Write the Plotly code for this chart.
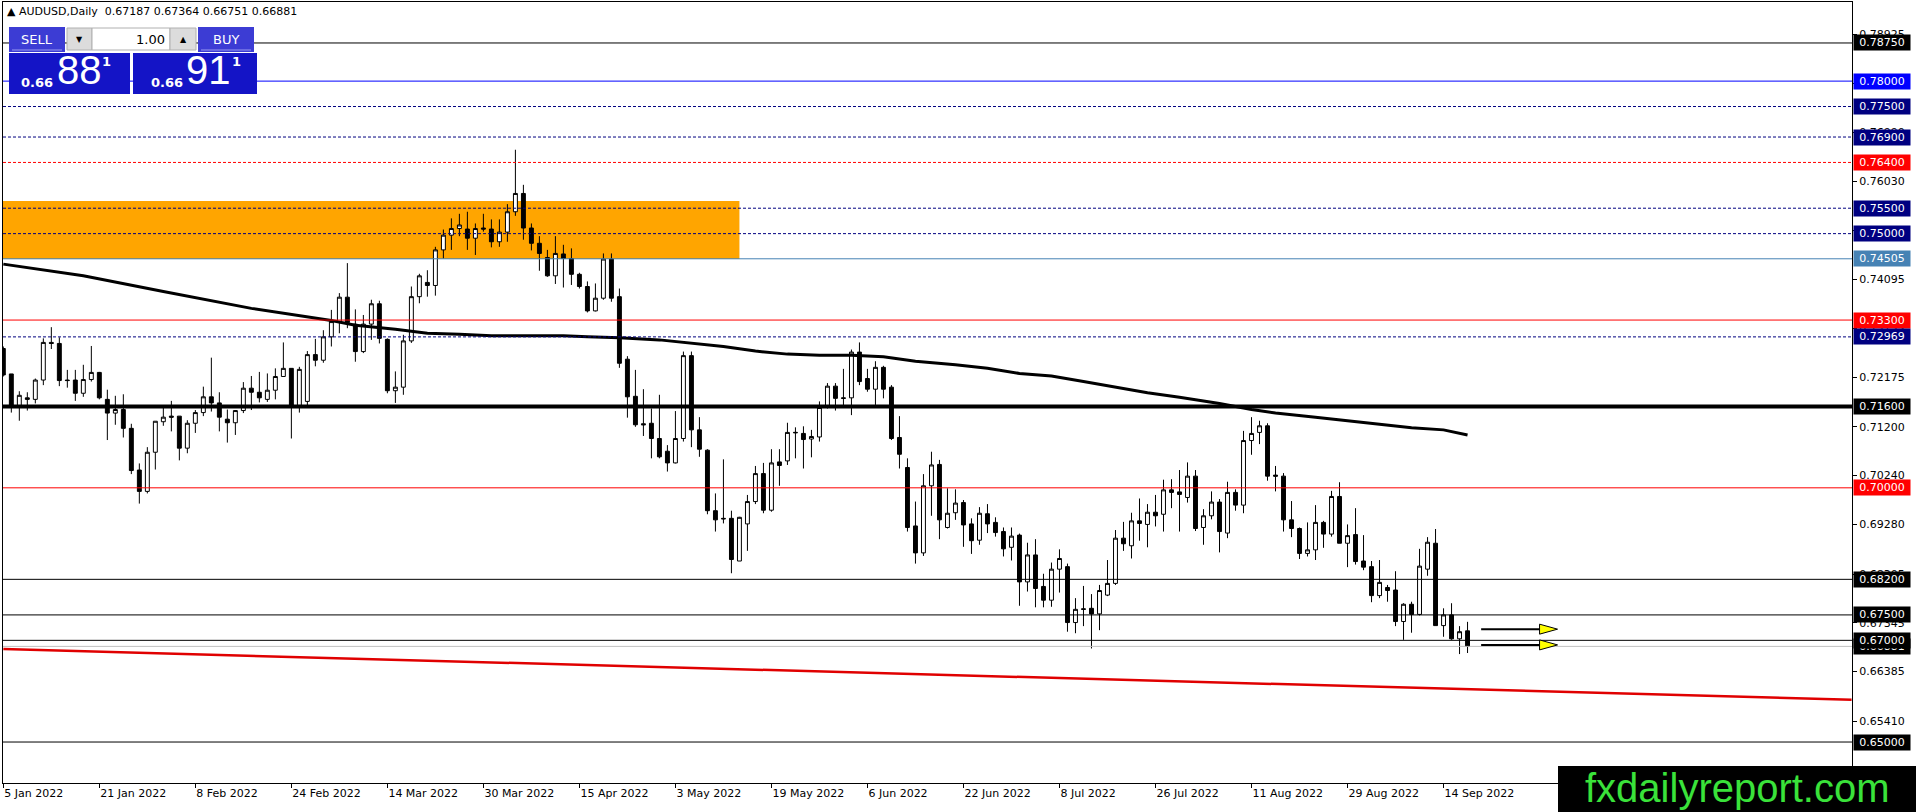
import plotly.graph_objects as go
import pandas as pd

# AUDUSD daily candles, 5 Jan 2022 .. 19 Sep 2022 (one per weekday)
start_date = "2022-01-05"

open_ = [0.7274, 0.7224, 0.7161, 0.7177, 0.7174, 0.7212, 0.7286, 0.7284, 0.7212, 0.7212,
         0.7186, 0.7213, 0.7227, 0.7174, 0.7147, 0.7154, 0.7117, 0.7035, 0.6993, 0.7070,
         0.7130, 0.7141, 0.7141, 0.7078, 0.7127, 0.7148, 0.7179, 0.7167, 0.7135, 0.7128,
         0.7152, 0.7196, 0.7188, 0.7174, 0.7192, 0.7219, 0.7235, 0.7162, 0.7170, 0.7262,
         0.7251, 0.7297, 0.7327, 0.7375, 0.7322, 0.7268, 0.7322, 0.7362, 0.7292, 0.7191,
         0.7198, 0.7289, 0.7376, 0.7404, 0.7398, 0.7468, 0.7497, 0.7510, 0.7509, 0.7491,
         0.7511, 0.7509, 0.7484, 0.7503, 0.7543, 0.7579, 0.7511, 0.7481, 0.7453, 0.7417,
         0.7460, 0.7451, 0.7420, 0.7396, 0.7348, 0.7373, 0.7450, 0.7376, 0.7253, 0.7180,
         0.7126, 0.7127, 0.7097, 0.7072, 0.7049, 0.7097, 0.7260, 0.7114, 0.7074, 0.6955,
         0.6940, 0.6940, 0.6856, 0.6929, 0.6973, 0.7028, 0.6956, 0.7051, 0.7053, 0.7108,
         0.7107, 0.7096, 0.7100, 0.7158, 0.7200, 0.7177, 0.7177, 0.7267, 0.7215, 0.7194,
         0.7237, 0.7198, 0.7099, 0.7040, 0.6925, 0.6872, 0.7004, 0.7046, 0.6922, 0.6951,
         0.6971, 0.6929, 0.6897, 0.6949, 0.6932, 0.6914, 0.6883, 0.6907, 0.6815, 0.6868,
         0.6806, 0.6779, 0.6840, 0.6845, 0.6735, 0.6762, 0.6763, 0.6752, 0.6789, 0.6812,
         0.6901, 0.6886, 0.6935, 0.6928, 0.6952, 0.6948, 0.6996, 0.6992, 0.6981, 0.7023,
         0.6922, 0.6945, 0.6972, 0.6911, 0.6991, 0.6966, 0.7093, 0.7109, 0.7122, 0.7025,
         0.7023, 0.6937, 0.6920, 0.6871, 0.6878, 0.6932, 0.6909, 0.6983, 0.6891, 0.6908,
         0.6856, 0.6845, 0.6788, 0.6804, 0.6799, 0.6737, 0.6771, 0.6751, 0.6840, 0.6891,
         0.6729, 0.6750, 0.6703, 0.67187]
high_ = [0.7278, 0.7224, 0.7190, 0.7188, 0.7215, 0.7294, 0.7316, 0.7296, 0.7232, 0.7232,
         0.7242, 0.7279, 0.7228, 0.7193, 0.7181, 0.7184, 0.7126, 0.7048, 0.7080, 0.7131,
         0.7160, 0.7171, 0.7141, 0.7133, 0.7153, 0.7199, 0.7256, 0.7188, 0.7154, 0.7153,
         0.7208, 0.7220, 0.7228, 0.7225, 0.7235, 0.7286, 0.7235, 0.7238, 0.7269, 0.7293,
         0.7310, 0.7350, 0.7383, 0.7442, 0.7351, 0.7340, 0.7370, 0.7368, 0.7294, 0.7229,
         0.7301, 0.7396, 0.7421, 0.7428, 0.7474, 0.7508, 0.7530, 0.7539, 0.7543, 0.7520,
         0.7539, 0.7528, 0.7528, 0.7558, 0.7665, 0.7596, 0.7520, 0.7495, 0.7468, 0.7495,
         0.7478, 0.7471, 0.7423, 0.7406, 0.7402, 0.7461, 0.7461, 0.7392, 0.7259, 0.7232,
         0.7194, 0.7156, 0.7183, 0.7084, 0.7151, 0.7268, 0.7268, 0.7139, 0.7076, 0.6989,
         0.7056, 0.6955, 0.6943, 0.6986, 0.7043, 0.7049, 0.7076, 0.7076, 0.7128, 0.7119,
         0.7121, 0.7114, 0.7170, 0.7206, 0.7206, 0.7234, 0.7272, 0.7286, 0.7234, 0.7249,
         0.7240, 0.7202, 0.7141, 0.7058, 0.6973, 0.7027, 0.7071, 0.7055, 0.6999, 0.6997,
         0.6976, 0.6940, 0.6962, 0.6968, 0.6942, 0.6922, 0.6922, 0.6910, 0.6892, 0.6899,
         0.6831, 0.6853, 0.6879, 0.6851, 0.6783, 0.6807, 0.6791, 0.6809, 0.6858, 0.6917,
         0.6933, 0.6951, 0.6979, 0.6968, 0.6986, 0.7016, 0.7017, 0.7035, 0.7050, 0.7035,
         0.6958, 0.6993, 0.6978, 0.7012, 0.6997, 0.7112, 0.7139, 0.7132, 0.7127, 0.7043,
         0.7029, 0.6974, 0.6922, 0.6932, 0.6966, 0.6935, 0.6994, 0.7011, 0.6928, 0.6960,
         0.6907, 0.6856, 0.6858, 0.6809, 0.6836, 0.6773, 0.6776, 0.6880, 0.6903, 0.6919,
         0.6763, 0.6773, 0.6728, 0.67364]
low_ = [0.7219, 0.7148, 0.7132, 0.7152, 0.7166, 0.7202, 0.7273, 0.7200, 0.7197, 0.7171,
        0.7179, 0.7209, 0.7174, 0.7094, 0.7124, 0.7099, 0.7027, 0.6969, 0.6989, 0.7036,
        0.7122, 0.7111, 0.7054, 0.7068, 0.7108, 0.7141, 0.7150, 0.7111, 0.7089, 0.7104,
        0.7147, 0.7153, 0.7168, 0.7169, 0.7174, 0.7219, 0.7097, 0.7148, 0.7160, 0.7239,
        0.7246, 0.7278, 0.7304, 0.7314, 0.7248, 0.7265, 0.7291, 0.7284, 0.7186, 0.7167,
        0.7183, 0.7285, 0.7363, 0.7376, 0.7378, 0.7451, 0.7468, 0.7495, 0.7468, 0.7458,
        0.7504, 0.7473, 0.7474, 0.7484, 0.7535, 0.7488, 0.7467, 0.7427, 0.7415, 0.7401,
        0.7394, 0.7399, 0.7392, 0.7345, 0.7347, 0.7370, 0.7366, 0.7236, 0.7138, 0.7120,
        0.7102, 0.7058, 0.7058, 0.7032, 0.7048, 0.7091, 0.7080, 0.7061, 0.6948, 0.6914,
        0.6930, 0.6832, 0.6856, 0.6876, 0.6968, 0.6950, 0.6953, 0.7004, 0.7045, 0.7058,
        0.7038, 0.7060, 0.7091, 0.7156, 0.7152, 0.7161, 0.7143, 0.7202, 0.7189, 0.7163,
        0.7176, 0.7094, 0.7038, 0.6914, 0.6851, 0.6866, 0.6945, 0.6899, 0.6920, 0.6937,
        0.6884, 0.6870, 0.6888, 0.6911, 0.6904, 0.6865, 0.6857, 0.6768, 0.6796, 0.6765,
        0.6765, 0.6766, 0.6794, 0.6717, 0.6714, 0.6728, 0.6684, 0.6720, 0.6787, 0.6809,
        0.6876, 0.6861, 0.6896, 0.6883, 0.6924, 0.6914, 0.6960, 0.6914, 0.6971, 0.6915,
        0.6888, 0.6938, 0.6873, 0.6901, 0.6955, 0.6950, 0.7065, 0.7086, 0.7014, 0.6993,
        0.6914, 0.6903, 0.6860, 0.6865, 0.6858, 0.6882, 0.6904, 0.6891, 0.6844, 0.6849,
        0.6838, 0.6775, 0.6783, 0.6776, 0.6728, 0.6701, 0.6715, 0.6749, 0.6827, 0.6729,
        0.6707, 0.6701, 0.6673, 0.66751]
close_ = [0.7222, 0.7161, 0.7182, 0.7174, 0.7212, 0.7286, 0.7284, 0.7211, 0.7211, 0.7186,
          0.7213, 0.7227, 0.7177, 0.7147, 0.7154, 0.7117, 0.7034, 0.6993, 0.7070, 0.7131,
          0.7139, 0.7139, 0.7078, 0.7127, 0.7148, 0.7179, 0.7167, 0.7139, 0.7128, 0.7152,
          0.7196, 0.7188, 0.7177, 0.7192, 0.7219, 0.7235, 0.7162, 0.7233, 0.7262, 0.7251,
          0.7297, 0.7327, 0.7375, 0.7325, 0.7268, 0.7322, 0.7362, 0.7294, 0.7191, 0.7198,
          0.7289, 0.7376, 0.7417, 0.7398, 0.7468, 0.7497, 0.7510, 0.7517, 0.7491, 0.7510,
          0.7509, 0.7484, 0.7503, 0.7543, 0.7579, 0.7511, 0.7481, 0.7461, 0.7417, 0.7461,
          0.7451, 0.7420, 0.7396, 0.7348, 0.7373, 0.7450, 0.7373, 0.7245, 0.7179, 0.7124,
          0.7124, 0.7097, 0.7061, 0.7049, 0.7097, 0.7260, 0.7114, 0.7076, 0.6955, 0.6937,
          0.6939, 0.6859, 0.6942, 0.6973, 0.7028, 0.6956, 0.7049, 0.7044, 0.7109, 0.7109,
          0.7095, 0.7101, 0.7158, 0.7200, 0.7176, 0.7176, 0.7267, 0.7209, 0.7194, 0.7237,
          0.7194, 0.7097, 0.7066, 0.6922, 0.6872, 0.7004, 0.7045, 0.6937, 0.6950, 0.6970,
          0.6927, 0.6896, 0.6950, 0.6929, 0.6912, 0.6880, 0.6905, 0.6815, 0.6868, 0.6802,
          0.6779, 0.6840, 0.6861, 0.6735, 0.6761, 0.6761, 0.6752, 0.6798, 0.6812, 0.6901,
          0.6890, 0.6935, 0.6930, 0.6952, 0.6945, 0.6996, 0.6991, 0.6987, 0.7023, 0.6920,
          0.6945, 0.6972, 0.6914, 0.6991, 0.6966, 0.7093, 0.7107, 0.7122, 0.7023, 0.7023,
          0.6937, 0.6920, 0.6871, 0.6878, 0.6932, 0.6909, 0.6983, 0.6891, 0.6906, 0.6855,
          0.6844, 0.6788, 0.6814, 0.6798, 0.6737, 0.6771, 0.6751, 0.6846, 0.6893, 0.6729,
          0.6750, 0.6703, 0.6717, 0.66881]

# 200-day moving average, read at a few bars
ma_bar = [0, 10, 20, 31, 41, 44, 49, 53, 57, 61, 65, 70, 73, 77, 82, 86, 90, 94, 98, 102,
          106, 110, 114, 119, 123, 127, 131, 135, 139, 143, 147, 152, 156, 159, 164, 168, 172, 176, 180, 183]
ma_val = [0.7440, 0.7417, 0.7386, 0.7353, 0.7329, 0.7320, 0.7312, 0.7304, 0.7302, 0.7299,
          0.7299, 0.7299, 0.7297, 0.7295, 0.7291, 0.7284, 0.7278, 0.7269, 0.7263, 0.7261,
          0.7261, 0.7258, 0.7249, 0.7242, 0.7235, 0.7225, 0.7220, 0.7209, 0.7198, 0.7187,
          0.7178, 0.7166, 0.7154, 0.7147, 0.7139, 0.7132, 0.7125, 0.7118, 0.7114, 0.7104]

# red trendline (bar, price)
trend_bar = [0, 231]
trend_val = [0.6683, 0.6583]

# horizontal levels
levels = [0.78750, 0.78000, 0.77500, 0.76900, 0.76400, 0.75500, 0.75000, 0.74505,
          0.73300, 0.72969, 0.71600, 0.70000, 0.68200, 0.67500, 0.67000, 0.65000]
bid_price = 0.66881
zone_low, zone_high, zone_end_bar = 0.7450, 0.7564, 92
arrow_levels = [0.6722, 0.6691]

# price scale labels
y_ticks = [0.78925, 0.77960, 0.76990, 0.76030, 0.75070, 0.74095, 0.73135, 0.72175,
           0.71200, 0.70240, 0.69280, 0.68305, 0.67345, 0.66385, 0.65410]

header = "AUDUSD,Daily  0.67187 0.67364 0.66751 0.66881"

NAVY = "#000080"
lvl_color = ["black", "#0000ff", NAVY, NAVY, "#ff0000", NAVY, NAVY, "#4682b4",
             "#ff0000", NAVY, "black", "#ff0000", "black", "black", "black", "black"]
lvl_dash = ["solid", "solid", "3px,2px", "3px,2px", "3px,2px", "3px,2px", "3px,2px", "solid",
            "solid", "3px,2px", "solid", "solid", "solid", "solid", "solid", "solid"]
lvl_width = [1, 1, 1, 1, 1, 1, 1, 1, 1, 1, 4, 1, 1, 1, 1, 1]
lvl_box = ["black", "#0000ff", NAVY, NAVY, "#ff0000", NAVY, NAVY, "#4682b4",
           "#ff0000", NAVY, "black", "#ff0000", "black", "black", "black", "black"]

W, H = 1916, 812
ML, MR, MT, MB = 3, 64, 2, 29
PW, PH = W - ML - MR, H - MT - MB


def fx(px):
    return (px - ML) / PW


def fy(py):
    return 1 - (py - MT) / PH


FONT = "DejaVu Sans"
dates = pd.bdate_range(start_date, periods=len(close_))
bars = list(range(len(close_)))
tick_bars = bars[::12]
tick_text = [f"{d.day} {d:%b %Y}" for d in dates[::12]]

fig = go.Figure()

fig.add_trace(go.Candlestick(
    x=bars, open=open_, high=high_, low=low_, close=close_,
    increasing=dict(line=dict(color="black", width=1), fillcolor="white"),
    decreasing=dict(line=dict(color="black", width=1), fillcolor="black"),
    whiskerwidth=0, showlegend=False, hoverinfo="skip"
))

fig.add_trace(go.Scatter(x=ma_bar, y=ma_val, mode="lines",
                         line=dict(color="black", width=3), showlegend=False, hoverinfo="skip"))

fig.add_trace(go.Scatter(x=trend_bar, y=trend_val, mode="lines",
                         line=dict(color="#e00000", width=2.5), showlegend=False, hoverinfo="skip"))

shapes = []
# orange zone
shapes.append(dict(type="rect", xref="x", yref="y", x0=-2, x1=zone_end_bar, y0=zone_low, y1=zone_high,
                   fillcolor="#ffa500", line=dict(width=0), layer="below"))
# bid line
shapes.append(dict(type="line", xref="paper", yref="y", x0=0, x1=1, y0=bid_price, y1=bid_price,
                   line=dict(color="#c0c0c0", width=1), layer="above"))
for lv, c, d, w in zip(levels, lvl_color, lvl_dash, lvl_width):
    shapes.append(dict(type="line", xref="paper", yref="y", x0=0, x1=1, y0=lv, y1=lv,
                       line=dict(color=c, width=w, dash=d), layer="above"))

# yellow arrows: shaft + pixel-sized head
for lv in arrow_levels:
    shapes.append(dict(type="line", xref="x", yref="y", x0=184.7, x1=192.2, y0=lv, y1=lv,
                       line=dict(color="black", width=2), layer="above"))
    shapes.append(dict(type="path", xref="x", yref="y", xsizemode="pixel", ysizemode="pixel",
                       xanchor=192.0, yanchor=lv, path="M 0,5 L 18,0 L 0,-5 Z",
                       fillcolor="#ffff00", line=dict(color="black", width=1), layer="above"))


def px_rect(x0, y0, x1, y1, fill, line_color=None):
    return dict(type="rect", xref="paper", yref="paper", x0=fx(x0), x1=fx(x1), y0=fy(y1), y1=fy(y0),
                fillcolor=fill, line=dict(color=line_color or fill, width=1 if line_color else 0),
                layer="above")


# one-click trading panel
shapes += [
    px_rect(9, 27, 65, 52, "#3c3cd4"),
    px_rect(67, 28, 92, 50, "#dcdcdc", "#b0b0b0"),
    px_rect(92, 28, 170, 50, "white", "#b0b0b0"),
    px_rect(170, 28, 196, 50, "#dcdcdc", "#b0b0b0"),
    px_rect(198, 27, 254, 52, "#3c3cd4"),
    px_rect(9, 53, 130, 94, "#1414c6"),
    px_rect(133, 53, 257, 94, "#1414c6"),
    dict(type="line", xref="paper", yref="paper", x0=fx(12), x1=fx(62), y0=fy(50), y1=fy(50),
         line=dict(color="#9a9af0", width=1), layer="above"),
    dict(type="line", xref="paper", yref="paper", x0=fx(201), x1=fx(251), y0=fy(50), y1=fy(50),
         line=dict(color="#9a9af0", width=1), layer="above"),
    # watermark box
    px_rect(1558, 766, 1916, 812, "black"),
]

ann = []


def px_text(x, y, text, size, color="white", family=FONT, xanchor="center", bold=False):
    if bold:
        text = f"<b>{text}</b>"
    ann.append(dict(xref="paper", yref="paper", x=fx(x), y=fy(y), text=text, showarrow=False,
                    xanchor=xanchor, yanchor="middle", font=dict(size=size, color=color, family=family)))


px_text(5, 12, "\u25b2 " + header, 11, color="black", xanchor="left")
px_text(37, 39, "SELL", 13)
px_text(226, 39, "BUY", 13)
px_text(167, 39, "1.00", 13, color="black", xanchor="right")
px_text(79, 39, "\u25bc", 8, color="black")
px_text(183, 39, "\u25b2", 8, color="black")
px_text(37, 83, "0.66", 13, bold=True)
px_text(79, 70, "88", 40, family="Liberation Sans")
px_text(106, 62, "1", 13, bold=True)
px_text(167, 83, "0.66", 13, bold=True)
px_text(208, 70, "91", 40, family="Liberation Sans")
px_text(236, 62, "1", 13, bold=True)
px_text(1737, 788, "fxdailyreport.com", 40, color="#3ae23a", family="Liberation Sans")

# price boxes on the right scale
ann.append(dict(xref="paper", yref="y", x=1, y=bid_price, xanchor="left", xshift=1, text=f"{bid_price:.5f}",
                showarrow=False, bgcolor="black", font=dict(size=11, color="white", family=FONT),
                borderpad=1, width=54))
for lv, c in zip(levels, lvl_box):
    ann.append(dict(xref="paper", yref="y", x=1, y=lv, xanchor="left", xshift=1, text=f"{lv:.5f}",
                    showarrow=False, bgcolor=c, font=dict(size=11, color="white", family=FONT),
                    borderpad=1, width=54))

fig.update_layout(
    width=W, height=H,
    margin=dict(l=ML, r=MR, t=MT, b=MB),
    paper_bgcolor="white", plot_bgcolor="white",
    shapes=shapes, annotations=ann,
    showlegend=False,
    xaxis=dict(range=[-0.04, 231.05], rangeslider=dict(visible=False), showgrid=False, zeroline=False,
               tickvals=tick_bars, ticktext=tick_text, ticks="outside", ticklen=4, tickcolor="black",
               ticklabelposition="outside right", tickfont=dict(family=FONT, size=11, color="black"),
               showline=True, linecolor="black", linewidth=1, mirror=True, fixedrange=True),
    yaxis=dict(range=[0.64194, 0.79556], side="right", showgrid=False, zeroline=False,
               tickvals=y_ticks, ticktext=[f"{v:.5f}" for v in y_ticks], ticks="outside", ticklen=4,
               tickcolor="black", tickfont=dict(family=FONT, size=11, color="black"),
               showline=True, linecolor="black", linewidth=1, mirror=True, fixedrange=True),
)

fig.write_html("out.html", config={"displayModeBar": False},
               post_script="document.body.style.margin='0';document.body.style.overflow='hidden';")
